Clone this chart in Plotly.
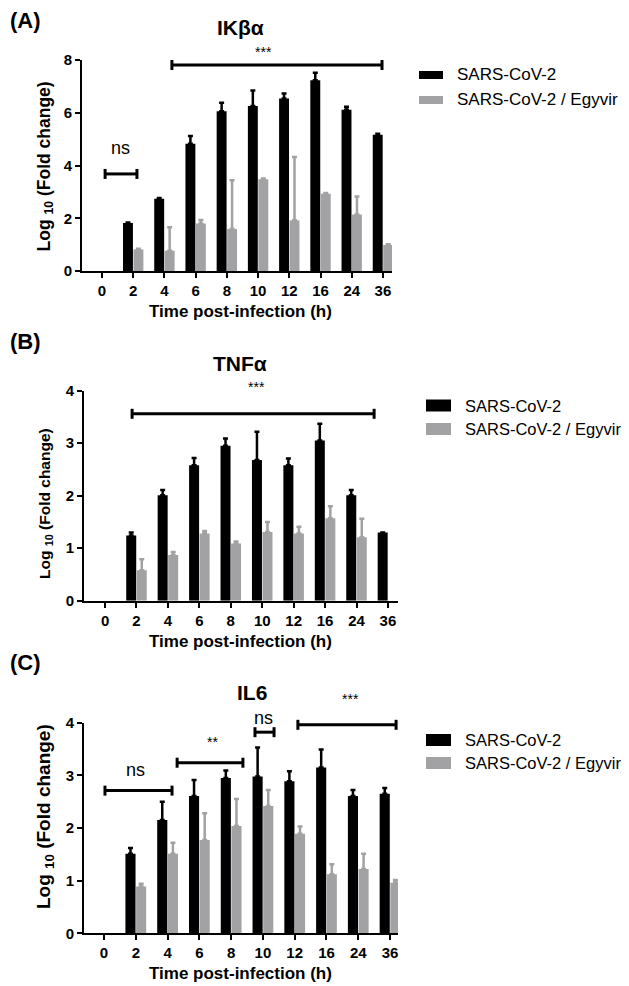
import plotly.graph_objects as go

# ---------------- data ----------------
categories = ["0", "2", "4", "6", "8", "10", "12", "16", "24", "36"]
series_names = ["SARS-CoV-2", "SARS-CoV-2 / Egyvir"]

ikba_virus = [None, 1.82, 2.74, 4.82, 6.06, 6.26, 6.54, 7.23, 6.11, 5.17]
ikba_virus_err = [None, 0.02, 0.03, 0.30, 0.32, 0.58, 0.19, 0.29, 0.12, 0.03]
ikba_egyvir = [None, 0.82, 0.77, 1.80, 1.59, 3.48, 1.92, 2.93, 2.14, 0.99]
ikba_egyvir_err = [None, 0.02, 0.89, 0.13, 1.85, 0.03, 2.40, 0.03, 0.68, 0.02]

tnfa_virus = [None, 1.24, 2.01, 2.58, 2.95, 2.68, 2.58, 3.05, 2.01, 1.30]
tnfa_virus_err = [None, 0.06, 0.10, 0.14, 0.14, 0.54, 0.13, 0.32, 0.10, 0.0]
tnfa_egyvir = [None, 0.58, 0.87, 1.28, 1.09, 1.31, 1.28, 1.57, 1.21, None]
tnfa_egyvir_err = [None, 0.21, 0.06, 0.05, 0.04, 0.19, 0.13, 0.23, 0.35, None]

il6_virus = [None, 1.51, 2.15, 2.61, 2.95, 2.98, 2.89, 3.15, 2.61, 2.65]
il6_virus_err = [None, 0.11, 0.35, 0.30, 0.14, 0.55, 0.19, 0.34, 0.11, 0.11]
il6_egyvir = [None, 0.89, 1.51, 1.77, 2.04, 2.42, 1.89, 1.12, 1.22, 0.96]
il6_egyvir_err = [None, 0.05, 0.21, 0.51, 0.51, 0.30, 0.14, 0.19, 0.29, 0.05]

# significance brackets: (start category index, end category index, y value, label, label x, label y)
ikba_sig = [(0.1, 1.12, 3.68, "ns", 0.6, 4.65), (2.24, 8.97, 7.81, "***", 5.16, 8.3)]
tnfa_sig = [(0.86, 8.56, 3.56, "***", 4.83, 4.07)]
il6_sig = [(0.03, 2.14, 2.71, "ns", 0.98, 3.1), (2.30, 4.37, 3.24, "**", 3.40, 3.64),
           (4.75, 5.35, 3.82, "ns", 5.03, 4.08), (6.10, 9.19, 3.96, "***", 7.74, 4.45)]

# ---------------- layout constants ----------------
PAGE_W, PAGE_H = 629, 986
OFF = 8  # default page body margin
W, H = PAGE_W - OFF, PAGE_H - OFF
FONT = "Liberation Sans, Arial, sans-serif"
BLACK = "#000000"
GREY = "#A2A2A5"


def px_x(p):
    return max(0.0, (p - OFF) / W)


def px_y(p):
    return min(1.0, 1 - (p - OFF) / H)


panels = [
    dict(title="IKβα", virus=ikba_virus, verr=ikba_virus_err, egy=ikba_egyvir, eerr=ikba_egyvir_err,
         sig=ikba_sig, xpx=(82, 392), ypx=(271, 60), xr=[-0.64, 9.29], yr=[0, 8], dtick=2,
         title_pos=(240, 28), label="(A)", label_y=20, xt_y=311, yt=(45, 166.5, 17.5),
         leg=dict(sw=(419, 443), rows=(75, 100), sh=8, tx=455, fs=17)),
    dict(title="TNFα", virus=tnfa_virus, verr=tnfa_virus_err, egy=tnfa_egyvir, eerr=tnfa_egyvir_err,
         sig=tnfa_sig, xpx=(84, 398), ypx=(600.7, 390.7), xr=[-0.67, 9.32], yr=[0, 4], dtick=1,
         title_pos=(240, 363), label="(B)", label_y=341, xt_y=641, yt=(45, 504, 15.5),
         leg=dict(sw=(426, 451), rows=(405.5, 429), sh=12, tx=463, fs=16.5)),
    dict(title="IL6", virus=il6_virus, verr=il6_virus_err, egy=il6_egyvir, eerr=il6_egyvir_err,
         sig=il6_sig, xpx=(84, 398), ypx=(933.3, 722.7), xr=[-0.63, 9.25], yr=[0, 4], dtick=1,
         title_pos=(252, 692), label="(C)", label_y=662, xt_y=973, yt=(45, 817, 19),
         leg=dict(sw=(426, 451), rows=(740, 763), sh=12, tx=463, fs=16.5)),
]

fig = go.Figure()
shapes = []
annotations = []

for i, p in enumerate(panels):
    n = "" if i == 0 else str(i + 1)
    xa, ya = "x" + n, "y" + n
    for vals, errs, color, name in [(p["virus"], p["verr"], BLACK, series_names[0]),
                                    (p["egy"], p["eerr"], GREY, series_names[1])]:
        fig.add_trace(go.Bar(
            x=categories, y=vals, name=name, marker=dict(color=color, line=dict(width=0)),
            error_y=dict(type="data", symmetric=False, array=errs,
                         arrayminus=[0] * len(errs), color=color, thickness=2.5, width=2.5),
            xaxis=xa, yaxis=ya, showlegend=False, offsetgroup=name,
        ))

    xdom = [px_x(p["xpx"][0]), px_x(p["xpx"][1])]
    ydom = [px_y(p["ypx"][0]), px_y(p["ypx"][1])]
    axis_common = dict(showline=True, linewidth=2, linecolor="black", ticks="outside",
                       ticklen=5, tickwidth=2, tickcolor="black", showgrid=False, zeroline=False,
                       automargin=False,
                       tickfont=dict(family=FONT, size=15, color="black", weight="bold"))
    fig.update_layout(**{
        "xaxis" + n: dict(domain=xdom, type="category", categoryorder="array",
                          categoryarray=categories, range=p["xr"], anchor=ya, **axis_common),
        "yaxis" + n: dict(domain=ydom, range=p["yr"], dtick=p["dtick"], anchor=xa, **axis_common),
    })

    ph = p["ypx"][0] - p["ypx"][1]
    xr, yr = p["xr"], p["yr"]

    def fx(v):
        return (v - xr[0]) / (xr[1] - xr[0])

    def fy(v):
        return (v - yr[0]) / (yr[1] - yr[0])

    cap = 5.0 / ph
    for (x0, x1, yv, lab, lx, ly) in p["sig"]:
        line = dict(color="black", width=3)
        shapes.append(dict(type="line", xref=xa + " domain", yref=ya + " domain",
                           x0=fx(x0), x1=fx(x1), y0=fy(yv), y1=fy(yv), line=line))
        for xe in (x0, x1):
            shapes.append(dict(type="line", xref=xa + " domain", yref=ya + " domain",
                               x0=fx(xe), x1=fx(xe), y0=fy(yv) - cap, y1=fy(yv) + cap, line=line))
        annotations.append(dict(xref=xa + " domain", yref=ya + " domain", x=fx(lx), y=fy(ly),
                                text=lab, showarrow=False, xanchor="center", yanchor="middle",
                                font=dict(family=FONT, size=18 if lab == "ns" else 14, color="black")))

    # titles & labels
    annotations.append(dict(xref="paper", yref="paper", x=px_x(p["title_pos"][0]),
                            y=px_y(p["title_pos"][1]), text=p["title"], showarrow=False,
                            xanchor="center", yanchor="middle",
                            font=dict(family=FONT, size=21, color="black", weight="bold")))
    annotations.append(dict(xref="paper", yref="paper", x=0.0, y=px_y(p["label_y"]),
                            text=p["label"], showarrow=False, xanchor="left", yanchor="middle",
                            font=dict(family=FONT, size=22, color="black", weight="bold")))
    annotations.append(dict(xref="paper", yref="paper", x=px_x(240), y=px_y(p["xt_y"]),
                            text="Time post-infection (h)", showarrow=False, xanchor="center",
                            yanchor="middle",
                            font=dict(family=FONT, size=17, color="black", weight="bold")))
    annotations.append(dict(xref="paper", yref="paper", x=px_x(p["yt"][0]), y=px_y(p["yt"][1]),
                            text="Log <sub>10</sub> (Fold change)", showarrow=False,
                            textangle=-90, xanchor="center", yanchor="middle",
                            font=dict(family=FONT, size=p["yt"][2], color="black", weight="bold")))

    # legend
    lg = p["leg"]
    for row, color, name in zip(lg["rows"], (BLACK, GREY), series_names):
        shapes.append(dict(type="rect", xref="paper", yref="paper",
                           x0=px_x(lg["sw"][0]), x1=px_x(lg["sw"][1]),
                           y0=px_y(row + lg["sh"] / 2), y1=px_y(row - lg["sh"] / 2),
                           fillcolor=color, line=dict(width=0)))
        annotations.append(dict(xref="paper", yref="paper", x=px_x(lg["tx"]), y=px_y(row),
                                text=name, showarrow=False, xanchor="left", yanchor="middle",
                                font=dict(family=FONT, size=lg["fs"], color="black")))

fig.update_layout(
    width=W, height=H, margin=dict(l=0, r=0, t=0, b=0),
    paper_bgcolor="white", plot_bgcolor="white",
    barmode="group", bargap=0.33, bargroupgap=0.05,
    shapes=shapes, annotations=annotations, showlegend=False,
    font=dict(family=FONT, color="black"),
)

fig.write_html("out.html")
